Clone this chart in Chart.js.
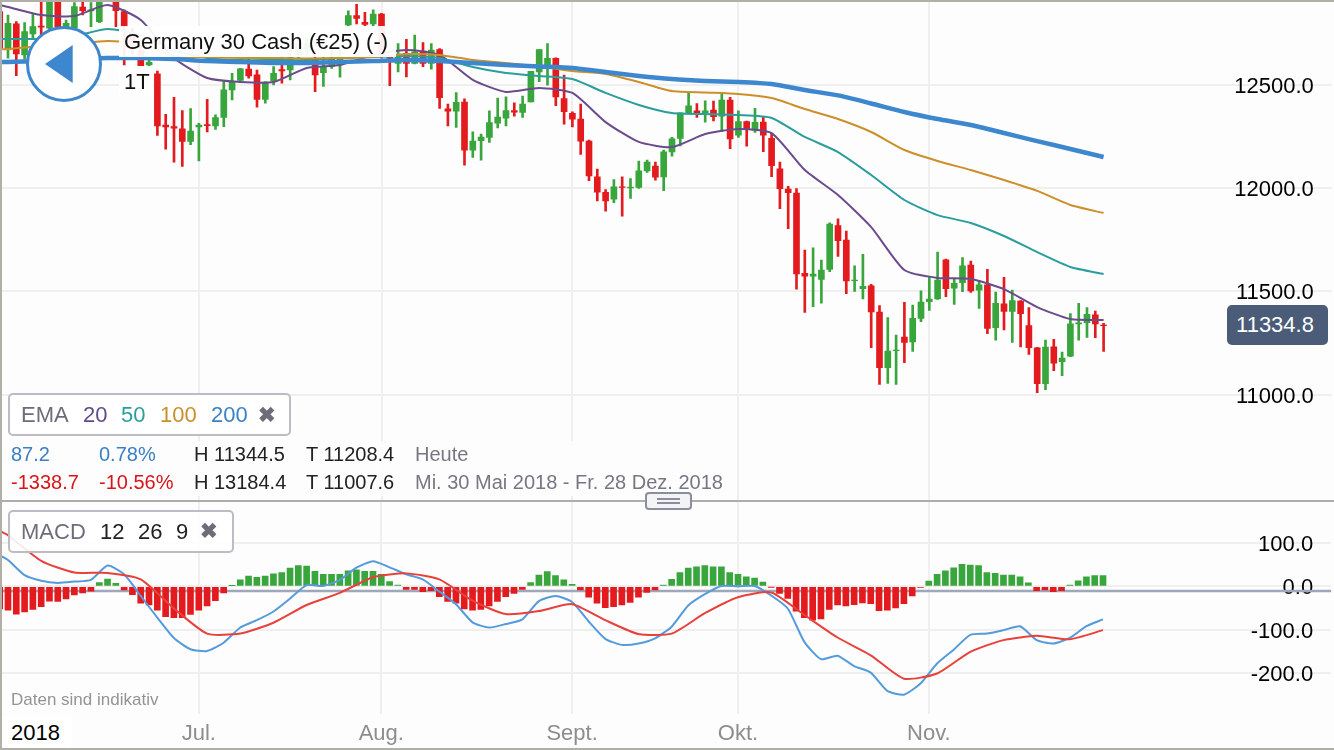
<!DOCTYPE html>
<html><head><meta charset="utf-8">
<script src="https://cdn.jsdelivr.net/npm/chart.js@4"></script>
<style>
html,body{margin:0;padding:0;width:1334px;height:750px;overflow:hidden;background:#fdfdfd;font-family:"Liberation Sans",Arial,sans-serif}
canvas{position:absolute;left:-8px}
.t{position:absolute;white-space:nowrap;line-height:1}
.box{position:absolute;background:rgba(255,255,255,.88);border:2px solid #bcbcc4;border-radius:5px;box-sizing:border-box}
</style></head><body>
<canvas id="top" width="1342" height="500" style="top:0;width:1342px;height:500px"></canvas>
<canvas id="bot" width="1342" height="248" style="top:502px;width:1342px;height:248px"></canvas>

<div style="position:absolute;left:0;top:0;width:1334px;height:2px;background:#b0b0a8"></div>
<div style="position:absolute;left:0;top:0;width:2px;height:750px;background:#b0b0a8"></div>
<div style="position:absolute;left:0;top:748px;width:1334px;height:2px;background:#b0b0a8"></div>
<div style="position:absolute;left:0;top:500px;width:1334px;height:2px;background:#adadad"></div>

<div style="position:absolute;left:119px;top:26px;width:277px;height:31px;background:rgba(255,255,255,.93)"></div>
<div class="t" style="left:124px;top:31px;font-size:22px;color:#111">Germany 30 Cash (€25) (-)</div>
<div style="position:absolute;left:119px;top:66px;width:34px;height:30px;background:rgba(255,255,255,.93)"></div>
<div class="t" style="left:124px;top:71px;font-size:22px;color:#111">1T</div>
<svg style="position:absolute;left:25px;top:25px" width="78" height="78"><circle cx="39" cy="39" r="36.5" fill="#fff" stroke="#3d87cf" stroke-width="3"/><path d="M20 39 L47.7 20 L47.7 58 Z" fill="#3d87cf"/></svg>

<div style="position:absolute;left:1227px;top:305px;width:96px;padding-right:5px;height:40px;background:#4a5c78;border-radius:5px;color:#fff;font-size:22px;line-height:40px;text-align:center">11334.8</div>

<div class="box" style="left:8px;top:393px;width:283px;height:43px"></div>
<div class="t" style="left:21px;top:404px;font-size:22px;color:#6d6d7a">EMA</div>
<div class="t" style="left:83px;top:404px;font-size:22px;color:#5f4b8b">20</div>
<div class="t" style="left:121px;top:404px;font-size:22px;color:#2a9d9d">50</div>
<div class="t" style="left:160px;top:404px;font-size:22px;color:#c8902a">100</div>
<div class="t" style="left:211px;top:404px;font-size:22px;color:#3a82c8">200</div>
<div class="t" style="left:258px;top:404px;font-size:21px;font-weight:bold;color:#6d6d7a">✖</div>

<div style="position:absolute;left:4px;top:441px;width:726px;height:55px;background:rgba(253,253,253,.92)"></div>
<div class="t" style="left:11px;top:444px;font-size:20px;color:#3a7fc4">87.2</div>
<div class="t" style="left:99px;top:444px;font-size:20px;color:#3a7fc4">0.78%</div>
<div class="t" style="left:194px;top:444px;font-size:20px;color:#222">H 11344.5</div>
<div class="t" style="left:306px;top:444px;font-size:20px;color:#222">T 11208.4</div>
<div class="t" style="left:415px;top:444px;font-size:20px;color:#777784">Heute</div>
<div class="t" style="left:11px;top:472px;font-size:20px;color:#d9141a">-1338.7</div>
<div class="t" style="left:99px;top:472px;font-size:20px;color:#d9141a">-10.56%</div>
<div class="t" style="left:194px;top:472px;font-size:20px;color:#222">H 13184.4</div>
<div class="t" style="left:306px;top:472px;font-size:20px;color:#222">T 11007.6</div>
<div class="t" style="left:415px;top:472px;font-size:20px;color:#777784">Mi. 30 Mai 2018 - Fr. 28 Dez. 2018</div>

<div style="position:absolute;left:645px;top:492px;width:47px;height:18px;box-sizing:border-box;border:2px solid #8b8f9c;border-radius:4px;background:#f4f4f6"></div>
<div style="position:absolute;left:657px;top:498px;width:23px;height:1.5px;background:#8b8f9c"></div>
<div style="position:absolute;left:657px;top:502px;width:23px;height:1.5px;background:#8b8f9c"></div>

<div class="box" style="left:8px;top:510px;width:226px;height:43px"></div>
<div class="t" style="left:21px;top:521px;font-size:22px;color:#6d6d7a">MACD</div>
<div class="t" style="left:100px;top:521px;font-size:22px;color:#222">12</div>
<div class="t" style="left:138px;top:521px;font-size:22px;color:#222">26</div>
<div class="t" style="left:176px;top:521px;font-size:22px;color:#222">9</div>
<div class="t" style="left:200px;top:520px;font-size:21px;font-weight:bold;color:#6d6d7a">✖</div>

<div class="t" style="left:11px;top:691px;font-size:17px;color:#949494">Daten sind indikativ</div>
<div style="position:absolute;left:3px;top:716px;width:68px;height:32px;background:#fff"></div>
<div class="t" style="left:11px;top:722px;font-size:22px;color:#000">2018</div>

<script>
const opens=[12854,12671,12794,12644,12745,12784,12773,12910,12765,12773,12875,12857,12805,12960,12902,12854,12749,12668,12596,12552,12304,12297,12286,12225,12296,12307,12300,12342,12475,12520,12575,12547,12429,12518,12573,12571,12644,12668,12628,12558,12587,12596,12789,12834,12802,12794,12841,12635,12603,12651,12603,12662,12603,12670,12383,12372,12416,12183,12229,12245,12314,12338,12375,12366,12417,12562,12587,12627,12433,12361,12333,12227,12054,11979,11946,12006,12001,12003,12083,12106,12054,12175,12240,12361,12374,12364,12377,12348,12426,12256,12321,12280,12319,12240,12093,11995,11976,11587,11574,11558,11606,11818,11748,11552,11513,11527,11400,11131,11213,11279,11255,11369,11450,11464,11653,11516,11542,11627,11506,11531,11324,11440,11403,11453,11335,11227,11053,11232,11160,11187,11343,11348,11387,11337];
const highs=[12870,12837,12805,12800,12845,12902,12958,12942,12813,12897,12910,12897,12926,12975,12918,12862,12773,12716,12620,12566,12357,12439,12375,12384,12313,12429,12354,12515,12555,12579,12636,12571,12515,12587,12636,12668,12733,12725,12668,12636,12668,12668,12857,12889,12850,12862,12845,12638,12699,12719,12740,12704,12699,12674,12406,12462,12432,12272,12261,12374,12435,12441,12412,12445,12564,12670,12699,12630,12546,12369,12406,12232,12091,11993,12041,12054,12046,12130,12135,12125,12183,12245,12364,12461,12409,12422,12420,12458,12439,12374,12324,12385,12342,12264,12126,12008,11997,11700,11711,11651,11832,11851,11792,11624,11679,11534,11431,11373,11289,11447,11434,11502,11571,11690,11656,11558,11663,11647,11550,11606,11497,11568,11506,11455,11421,11229,11264,11268,11206,11393,11442,11421,11405,11345];
const lows=[12640,12628,12544,12623,12720,12733,12749,12749,12733,12757,12837,12781,12800,12925,12781,12596,12644,12591,12591,12254,12188,12125,12104,12210,12131,12271,12284,12297,12426,12510,12531,12391,12410,12499,12507,12523,12628,12644,12466,12491,12579,12536,12784,12794,12784,12784,12628,12495,12562,12538,12600,12587,12575,12385,12300,12293,12111,12148,12135,12221,12291,12301,12348,12341,12417,12514,12498,12398,12309,12296,12162,12035,11937,11888,11929,11864,11950,11998,12075,12038,11987,12154,12204,12361,12341,12319,12325,12272,12190,12245,12203,12269,12176,12055,11900,11803,11511,11398,11426,11443,11595,11669,11489,11500,11464,11227,11050,11055,11050,11155,11210,11353,11408,11461,11474,11437,11498,11495,11418,11295,11264,11313,11253,11231,11195,11010,11024,11116,11092,11184,11264,11277,11276,11210];
const closes=[12676,12797,12649,12757,12781,12778,12926,12781,12797,12878,12858,12862,12910,12940,12858,12781,12700,12591,12608,12300,12296,12289,12225,12276,12305,12302,12341,12475,12515,12576,12542,12429,12512,12555,12566,12633,12700,12700,12547,12587,12628,12636,12834,12821,12791,12841,12636,12627,12643,12603,12659,12603,12667,12437,12372,12414,12183,12227,12246,12316,12343,12375,12367,12406,12564,12670,12627,12441,12369,12333,12227,12058,11980,11938,12006,12003,12004,12083,12125,12053,12175,12238,12364,12398,12361,12374,12345,12426,12237,12321,12284,12318,12256,12108,11997,11977,11584,11574,11584,11603,11826,11745,11550,11555,11524,11400,11131,11211,11216,11253,11369,11448,11463,11555,11513,11539,11624,11502,11532,11321,11442,11403,11455,11392,11227,11053,11231,11152,11177,11343,11348,11389,11343,11334];

// moving averages: first value is the session cut off at the left edge, the rest are read at every 4th session
const ema20=[12885,12876,12837,12832,12885,12813,12629,12532,12513,12513,12581,12595,12644,12668,12644,12523,12465,12484,12460,12319,12223,12198,12261,12286,12266,12087,11966,11811,11603,11565,11560,11511,11424,11366,11361];
const ema50=[12721,12721,12721,12735,12769,12740,12668,12629,12619,12619,12619,12629,12634,12639,12629,12585,12556,12542,12527,12460,12402,12363,12358,12353,12339,12247,12174,12063,11942,11869,11831,11768,11690,11618,11584];
const ema100=[12672,12672,12687,12697,12711,12697,12639,12634,12629,12629,12627,12629,12634,12648,12644,12619,12605,12588,12566,12552,12513,12469,12462,12455,12435,12382,12334,12271,12184,12131,12087,12039,11986,11918,11879];
const ema200=[12610,12610,12614,12624,12629,12629,12624,12614,12610,12605,12605,12610,12614,12619,12614,12605,12595,12588,12581,12561,12542,12527,12518,12513,12503,12474,12448,12409,12368,12334,12305,12266,12227,12189,12150];

const histogram=[-52,-55,-64,-59,-53,-47,-34,-35,-29,-20,-15,-11,9,17,7,-8,-19,-39,-43,-55,-70,-72,-72,-65,-55,-45,-33,-15,1.5,15,24,21,24,29,32,42,48,47,35,28,28,28,36,38,35,35,28,11,3,-7,-7,-12,-10,-24,-35,-39,-52,-55,-53,-45,-35,-24,-16,-7,9,26,34,25,15,5,-8,-25,-39,-49,-47,-43,-37,-25,-14,-8,3,16,32,42,45,48,45,45,32,28,22,19,10,-1.5,-16,-28,-57,-72,-78,-75,-53,-43,-45,-42,-38,-40,-56,-55,-50,-40,-22,-2,12,28,36,43,51,49,48,32,30,26,26,22,8,-10,-8,-12,-10,3,13,22,25,25];
// MACD line read at every 2nd session, signal line at every 4th
const macdLine=[72,61,26,13,8,11,15,48,28,-22,-72,-119,-145,-149,-130,-95,-78,-58,-28,3,1,15,43,58,44,28,16,-12,-41,-83,-95,-87,-76,-34,-22,-36,-81,-121,-135,-132,-120,-93,-44,-18,1,0,1,-21,-51,-128,-168,-160,-184,-199,-241,-250,-224,-178,-146,-112,-109,-101,-92,-124,-132,-119,-92,-76];
const signalLine=[128,118,59,32,31,16,-51,-109,-109,-84,-43,-15,21,30,16,-33,-64,-57,-41,-78,-110,-109,-62,-25,-14,-66,-118,-159,-213,-201,-151,-124,-114,-122,-101];
const macdCurrent=-10.8;

const priceTicks=[11000,11500,12000,12500];
const macdTicks=[-200,-100,0,100];
const monthIndex=[24,46,69,89,112];
const monthNames=['Jul.','Aug.','Sept.','Okt.','Nov.'];
const slotCount=161;

const GREEN='#38a63c',RED='#e31b1f',GRID='#efefef',LABEL='#000';
const categories=Array.from({length:slotCount},(_,i)=>{const k=monthIndex.indexOf(i);return k<0?'':monthNames[k];});
const sparse=(a,step)=>{const r=new Array(opens.length).fill(null);r[0]=a[0];a.slice(1).forEach((v,k)=>r[k*step+1]=v);return r;};
const candleCol=opens.map((o,i)=>closes[i]>=o?GREEN:RED);
const line=(data,step,color,w,order)=>({type:'line',data:sparse(data,step),borderColor:color,borderWidth:w,pointRadius:0,spanGaps:true,tension:.2,order});
const xScale=(extra)=>Object.assign({type:'category',labels:categories,offset:true,
  grid:{offset:false,drawTicks:false,lineWidth:2,color:c=>monthIndex.includes(c.index)?GRID:'transparent'},
  border:{display:false}},extra);
const yScale=(min,max,list)=>({position:'right',min,max,
  afterBuildTicks:s=>{s.ticks=list.map(value=>({value}));},
  afterFit:s=>{s.width=0;s.paddingTop=0;s.paddingBottom=0;},
  grid:{drawTicks:false,lineWidth:2,color:GRID},
  border:{display:false},
  ticks:{mirror:true,padding:-18,labelOffset:2,color:LABEL,font:{family:'"Liberation Sans"',size:22},
    callback:v=>v.toFixed(1)}});
const base={responsive:false,animation:false,events:[],
  plugins:{legend:{display:false},tooltip:{enabled:false}},
  datasets:{bar:{grouped:false}}};
const pad={left:3.55,right:2.15,top:0,bottom:0};

new Chart(document.getElementById('top'),{
  data:{labels:categories,datasets:[
    line(ema200,4,'#3d87cf',4.5,1),line(ema100,4,'#cc8f2a',2,2),line(ema50,4,'#2a9d9d',2,3),line(ema20,4,'#6a4c8c',2,4),
    {type:'bar',data:opens.map((o,i)=>[Math.min(o,closes[i]),Math.max(o,closes[i])]),backgroundColor:candleCol,barThickness:6,order:10},
    {type:'bar',data:lows.map((l,i)=>[l,highs[i]]),backgroundColor:candleCol,barThickness:2,order:11}
  ]},
  options:Object.assign({},base,{
    layout:{padding:pad},
    scales:{x:xScale({ticks:{display:false}}),y:yScale(10490.6,12909.6,priceTicks)}
  })
});

const currentLine={id:'currentLine',beforeDatasetsDraw(ch){
  const y=ch.scales.y.getPixelForValue(macdCurrent),a=ch.chartArea,c=ch.ctx;
  c.save();c.strokeStyle='#9ea8ba';c.lineWidth=2.5;c.beginPath();c.moveTo(a.left,y);c.lineTo(a.right,y);c.stroke();c.restore();
}};
new Chart(document.getElementById('bot'),{
  plugins:[currentLine],
  data:{labels:categories,datasets:[
    line(signalLine,4,'#e8413c',2,1),
    line(macdLine,2,'#559bdc',2,2),
    {type:'bar',data:histogram,backgroundColor:histogram.map(v=>v>=0?GREEN:RED),barThickness:6,order:10}
  ]},
  options:Object.assign({},base,{
    layout:{padding:pad},
    scales:{
      x:xScale({afterFit:s=>{s.height=36;},ticks:{autoSkip:false,maxRotation:0,padding:7,color:'#8d8d8d',font:{family:'"Liberation Sans"',size:22}}}),
      y:yScale(-294.5,194.7,macdTicks)
    }
  })
});
</script>
</body></html>
